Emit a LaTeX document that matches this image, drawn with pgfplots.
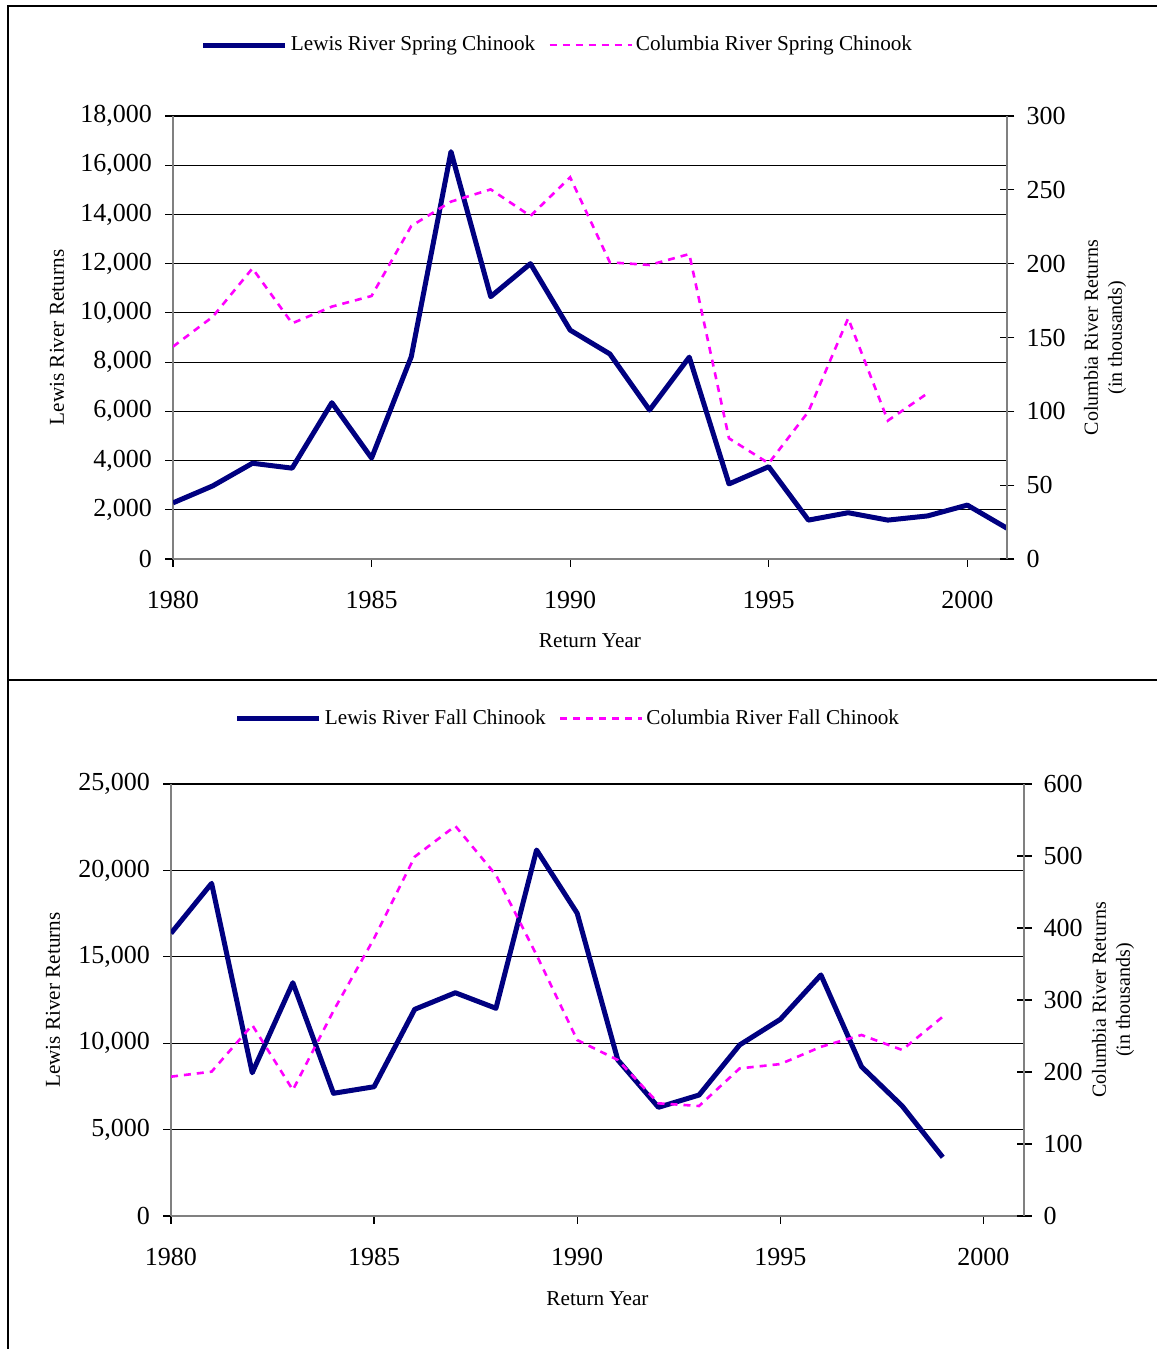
\documentclass[border=0pt]{standalone}
\usepackage{fontspec}
\setmainfont{Liberation Serif}
\usepackage{pgfplots}
\pgfplotsset{compat=1.18}

\definecolor{lewisnavy}{RGB}{0,0,128}
\definecolor{colmagenta}{RGB}{255,0,255}
\definecolor{axisgray}{RGB}{128,128,128}

\pgfplotstableread{
year returns
1980 2280
1981 2970
1982 3890
1983 3690
1984 6350
1985 4100
1986 8220
1987 16550
1988 10660
1989 12000
1990 9300
1991 8330
1992 6050
1993 8200
1994 3050
1995 3750
1996 1580
1997 1880
1998 1580
1999 1750
2000 2190
2001 1250
}\lewisspring

\pgfplotstableread{
year returns
1980 143.8
1981 164.0
1982 196.8
1983 159.6
1984 170.9
1985 178.1
1986 225.5
1987 242.0
1988 250.3
1989 232.3
1990 258.5
1991 200.9
1992 199.1
1993 206.5
1994 81.7
1995 64.8
1996 99.8
1997 163.0
1998 93.7
1999 112.2
}\columbiaspring

\pgfplotstableread{
year returns
1980 16360
1981 19250
1982 8290
1983 13500
1984 7100
1985 7480
1986 11960
1987 12920
1988 12020
1989 21180
1990 17520
1991 9030
1992 6290
1993 7000
1994 9900
1995 11380
1996 13950
1997 8640
1998 6370
1999 3400
}\lewisfall

\pgfplotstableread{
year returns
1980 193.5
1981 200.5
1982 265.3
1983 175.0
1984 285.0
1985 385.6
1986 499.0
1987 541.7
1988 473.6
1989 362.5
1990 244.4
1991 216.7
1992 156.5
1993 152.8
1994 205.0
1995 211.0
1996 235.0
1997 251.4
1998 230.6
1999 276.8
}\columbiafall

\pgfplotsset{
  chinook/.style={
    scale only axis,
    anchor=south west,
    xmin=1980, xmax=2001,
    scaled ticks=false,
    /pgf/number format/assume math mode=true,
    tick label style={font=\fontsize{13}{15}\selectfont},
    label style={font=\fontsize{10.6}{15}\selectfont},
    every tick/.style={black, line width=0.6pt},
  },
  chinook lines/.style={
    axis line style={axisgray, line width=0.8pt, -},
    x axis line style={-}, y axis line style={-},
  },
  chinook left/.style={
    chinook,
    axis x line=bottom, axis y line=left,
    chinook lines,
    tick align=outside, major tick length=4pt,
    xtick={1980,1985,...,2000},
    xticklabel style={/pgf/number format/1000 sep={}, yshift=-8.5pt},
    yticklabel style={/pgf/number format/1000 sep={,}, xshift=-3pt},
    ymajorgrids, major grid style={black, line width=0.6pt},
    xlabel={Return Year}, ylabel={Lewis River Returns},
  },
  chinook right/.style={
    chinook,
    axis x line=none, axis y line=right,
    chinook lines,
    ytick align=center, major tick length=7.5pt,
    yticklabel style={xshift=2.5pt},
    ylabel={Columbia River Returns\\(in thousands)},
    ylabel style={align=center},
    legend columns=2,
    legend style={draw=none, fill=none, inner sep=0pt,
      font=\fontsize{10.6}{13}\selectfont,
      nodes={inner sep=1.5pt},
      /tikz/every even column/.append style={column sep=5pt}},
    legend image code/.code={\draw[##1] (0pt,0pt) -- (41pt,0pt);},
  },
  lewis line/.style={lewisnavy, line width=2.5pt, line join=round},
  columbia line/.style={colmagenta, line width=1.3pt, dash pattern=on 3.5pt off 3pt},
}

\begin{document}
\begin{tikzpicture}
\path[use as bounding box] (0pt,0pt) rectangle (578.5pt,674.5pt);

% panel frame
\draw[black, line width=1pt] (4.2pt,0pt) -- (4.2pt,671.5pt) -- (578.5pt,671.5pt);
\draw[black, line width=1pt] (4.2pt,334.5pt) -- (578.5pt,334.5pt);

% ---- spring chinook ----
\begin{axis}[chinook left, at={(86.5pt,395pt)}, width=417pt, height=221.5pt,
  ymin=0, ymax=18000, ytick={0,2000,...,18000},
  xlabel style={at={(axis description cs:0.5,-0.185)}, anchor=center},
  ylabel style={at={(axis description cs:-0.139,0.5)}, anchor=center}]
\addplot[lewis line] table[x=year, y=returns] {\lewisspring};
\end{axis}
\begin{axis}[chinook right, at={(86.5pt,395pt)}, width=417pt, height=221.5pt,
  ymin=0, ymax=300, ytick={0,50,...,300},
  ylabel style={at={(axis description cs:1.1175,0.5)}, anchor=center},
  legend style={at={(axis description cs:0.4616,1.16)}, anchor=center}]
\addlegendimage{lewis line}
\addlegendentry{Lewis River Spring Chinook}
\addplot[columbia line] table[x=year, y=returns] {\columbiaspring};
\addlegendentry{Columbia River Spring Chinook}
\end{axis}

% ---- fall chinook ----
\begin{axis}[chinook left, at={(85.5pt,66.5pt)}, width=426.5pt, height=216pt,
  ymin=0, ymax=25000, ytick={0,5000,...,25000},
  xlabel style={at={(axis description cs:0.5,-0.192)}, anchor=center},
  ylabel style={at={(axis description cs:-0.1383,0.5)}, anchor=center}]
\addplot[lewis line] table[x=year, y=returns] {\lewisfall};
\end{axis}
\begin{axis}[chinook right, at={(85.5pt,66.5pt)}, width=426.5pt, height=216pt,
  ymin=0, ymax=600, ytick={0,100,...,600},
  ylabel style={at={(axis description cs:1.1043,0.5)}, anchor=center},
  legend style={at={(axis description cs:0.466,1.152)}, anchor=center}]
\addlegendimage{lewis line}
\addlegendentry{Lewis River Fall Chinook}
\addplot[columbia line] table[x=year, y=returns] {\columbiafall};
\addlegendentry{Columbia River Fall Chinook}
\end{axis}
\end{tikzpicture}
\end{document}
